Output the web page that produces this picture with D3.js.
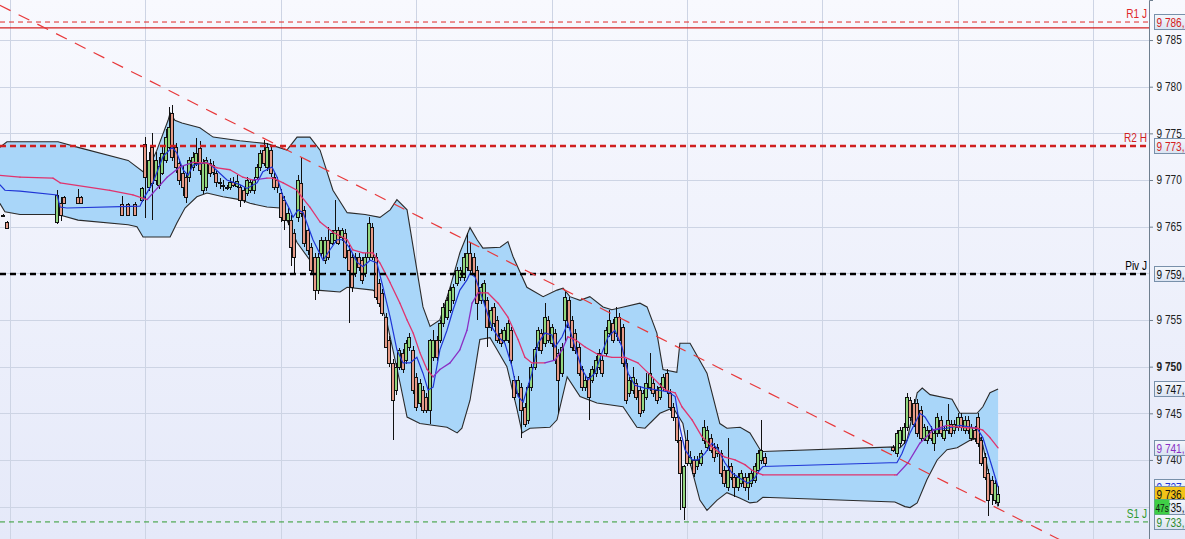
<!DOCTYPE html>
<html><head><meta charset="utf-8">
<script src="https://cdn.jsdelivr.net/npm/d3@7"></script>
<style>body{margin:0;overflow:hidden;background:#fff}svg{display:block}</style>
</head><body><svg id="c" width="1185" height="539"></svg>
<script>
// ---------------- DATA ----------------
// candles: [time, open, high, low, close]
const candlesLeft = [
[-2,9766.3,9766.4,9766.1,9766.2],[-1,9765.5,9765.6,9764.8,9764.9],[14,9765.5,9768.9,9765.3,9768.4],
[15,9767.5,9768.2,9765.6,9766.3],[16,9768.2,9768.3,9767.4,9767.5],[20,9768.2,9769.0,9767.4,9767.5],
[21,9768.2,9768.3,9767.4,9767.5],[33,9767.4,9768.3,9766.2,9766.3],[35,9767.4,9767.5,9766.2,9766.3],
[37,9767.4,9767.6,9766.2,9766.3],[39,9767.9,9769.3,9767.6,9769.1]];
const candlesA = [
[40,9773.9,9774.6,9765.9,9770.3],[41,9769.3,9773.0,9768.8,9772.1],[42,9773.5,9775.0,9765.7,9769.7],
[43,9770.0,9773.0,9769.5,9772.1],[44,9769.5,9772.5,9769.0,9771.5],[45,9770.8,9773.5,9770.5,9772.9],
[46,9772.1,9775.5,9771.8,9774.6],[47,9773.5,9777.8,9773.3,9775.7],[48,9777.2,9778.0,9772.0,9772.5],
[49,9773.5,9774.0,9770.8,9771.4],[50,9771.8,9772.3,9769.5,9770.0],[51,9770.7,9771.5,9768.3,9769.3],
[52,9770.3,9770.8,9767.5,9768.2],[53,9770.3,9772.5,9769.8,9772.1],[54,9771.4,9773.0,9771.0,9772.5],
[55,9771.8,9774.5,9771.5,9772.9],[56,9773.4,9774.2,9770.5,9771.1],[57,9768.9,9772.3,9768.5,9771.8],
[58,9769.2,9772.5,9768.8,9772.1],[59,9771.8,9772.2,9770.3,9770.8],[60,9771.6,9772.0,9770.5,9770.9],
[61,9770.7,9771.0,9769.3,9769.8],[62,9769.8,9770.2,9769.0,9769.7],[63,9769.5,9770.0,9768.8,9769.4],
[64,9769.3,9769.5,9768.9,9769.2],[65,9769.2,9770.2,9768.9,9769.8],[66,9769.8,9770.3,9769.2,9769.5],
[67,9769.4,9770.5,9769.1,9769.9],[68,9769.2,9769.5,9767.1,9767.9],[69,9768.9,9769.3,9767.5,9767.9],
[70,9768.6,9770.3,9768.3,9770.0],[71,9768.9,9770.0,9768.6,9769.8],[72,9768.9,9770.3,9768.5,9770.0],
[73,9770.3,9771.7,9770.0,9771.4],[74,9771.4,9773.2,9771.0,9772.9],[75,9773.2,9774.3,9771.5,9771.8],
[76,9771.4,9774.0,9771.0,9773.5],[77,9773.2,9773.6,9770.3,9770.7],[78,9770.3,9770.7,9768.9,9769.3],
[79,9770.0,9770.3,9768.6,9769.2],[80,9768.6,9769.0,9765.5,9766.0],[81,9767.9,9768.3,9764.6,9765.7],
[82,9765.7,9767.0,9765.2,9766.5],[83,9765.7,9766.2,9760.8,9762.8],[84,9764.3,9764.8,9760.0,9761.8],
[85,9766.0,9770.5,9765.5,9770.0],[86,9769.7,9772.5,9766.0,9766.5],[87,9766.8,9767.2,9762.8,9763.3],
[88,9764.6,9765.0,9762.0,9762.5]];
const candlesB = [
[89,9762.8,9763.2,9760.0,9760.4],[90,9761.8,9762.2,9757.1,9758.2],[91,9758.2,9762.2,9757.8,9761.8],
[92,9762.2,9763.9,9761.8,9763.6],[93,9761.4,9763.9,9761.0,9763.6],[94,9763.6,9765.0,9761.4,9761.8],
[95,9763.3,9764.6,9763.0,9764.3],[96,9763.6,9767.9,9763.3,9764.6],[97,9764.6,9765.0,9763.0,9763.3],
[98,9763.9,9764.9,9763.5,9764.6],[99,9764.3,9764.8,9761.5,9761.8],[100,9762.5,9763.0,9754.7,9760.4],
[101,9761.8,9762.2,9758.0,9758.5],[102,9760.0,9762.2,9759.6,9761.8],[103,9761.8,9762.2,9760.3,9760.7],
[104,9761.4,9761.8,9758.9,9759.3],[105,9760.0,9762.2,9759.6,9761.8],[106,9761.8,9766.0,9761.4,9765.4],
[107,9765.0,9765.4,9761.4,9761.8],[108,9761.8,9762.2,9757.1,9757.5],[109,9759.0,9759.4,9756.4,9756.8],
[110,9757.9,9758.3,9755.4,9755.8],[111,9755.3,9755.7,9752.0,9752.1],[112,9752.9,9753.3,9750.0,9750.4],
[113,9750.4,9750.8,9742.1,9746.4],[114,9747.5,9750.4,9747.0,9750.0],[115,9750.0,9752.0,9749.6,9751.8],
[116,9751.5,9751.9,9749.3,9749.7],[117,9750.7,9752.9,9750.3,9752.5],[118,9752.1,9753.6,9751.7,9753.2],
[119,9751.8,9752.2,9747.1,9747.5],[120,9748.9,9749.3,9745.3,9745.7],[121,9746.1,9748.7,9745.7,9748.3],
[122,9747.5,9747.9,9745.0,9745.4],[123,9746.8,9747.2,9745.0,9745.4],[124,9745.4,9753.0,9743.9,9752.9],
[125,9751.0,9753.9,9750.6,9752.9],[126,9752.9,9753.3,9750.6,9751.0],[127,9752.9,9755.0,9752.5,9754.7],
[128,9754.7,9756.8,9754.3,9756.4],[129,9755.3,9757.5,9755.0,9757.1],[130,9756.1,9758.6,9755.7,9758.2],
[131,9757.1,9758.9,9756.7,9758.5],[132,9759.0,9760.7,9758.6,9760.4],[133,9759.6,9760.7,9759.2,9760.4],
[134,9759.6,9762.2,9759.2,9761.8],[135,9760.7,9764.3,9760.3,9762.2]];
const candlesC = [
[136,9762.2,9763.2,9760.0,9760.4],[137,9761.8,9762.2,9759.6,9760.0],[138,9760.4,9760.8,9755.0,9756.8],
[139,9757.1,9758.9,9756.7,9758.5],[140,9757.1,9759.3,9756.7,9759.0],[141,9757.1,9757.5,9752.1,9754.2],
[142,9754.2,9756.4,9753.8,9756.1],[143,9756.4,9756.8,9754.3,9754.7],[144,9755.0,9755.4,9752.5,9752.9],
[145,9753.6,9754.0,9752.1,9752.5],[146,9752.9,9754.3,9752.5,9753.9],[147,9752.9,9755.0,9752.5,9754.7],
[148,9753.9,9754.3,9750.3,9750.7],[149,9748.6,9749.0,9746.4,9746.8],[150,9747.2,9749.0,9746.8,9748.6],
[151,9747.8,9748.2,9742.4,9745.4],[152,9745.7,9746.1,9743.5,9743.9],[153,9744.3,9748.2,9743.9,9747.8],
[154,9747.8,9750.3,9747.4,9750.0],[155,9750.0,9752.1,9749.6,9751.9],[156,9752.1,9754.3,9751.7,9753.9],
[157,9753.6,9754.0,9751.4,9751.8],[158,9752.5,9756.8,9752.1,9755.3],[159,9755.0,9755.4,9752.5,9752.9],
[160,9752.5,9754.6,9752.1,9754.2],[161,9753.6,9754.0,9750.3,9750.7],[162,9751.5,9751.9,9745.0,9748.6],
[163,9749.3,9752.5,9748.9,9752.1],[164,9755.0,9758.0,9752.5,9757.5],[165,9757.1,9757.5,9754.0,9754.2],
[166,9755.0,9755.4,9751.7,9752.1],[167,9753.6,9754.0,9751.4,9751.8],[168,9752.1,9752.5,9749.0,9749.3],
[169,9749.7,9750.1,9747.4,9747.8],[170,9747.8,9749.0,9747.4,9748.6],[171,9748.9,9749.3,9744.3,9746.8],
[172,9748.6,9750.1,9748.2,9749.7],[173,9749.3,9751.1,9748.9,9750.7],[174,9750.0,9751.9,9749.6,9751.5],
[175,9750.7,9751.1,9748.9,9749.3],[176,9751.5,9754.3,9751.1,9753.9],[177,9753.6,9756.1,9753.2,9755.0],
[178,9754.7,9755.1,9752.5,9752.9],[179,9753.6,9756.4,9753.2,9755.3],[180,9755.3,9755.7,9752.5,9752.9],
[181,9754.2,9754.6,9750.0,9750.4]];
const candlesD = [
[182,9750.4,9750.8,9746.0,9746.4],[183,9747.2,9748.9,9746.8,9748.6],[184,9747.5,9750.0,9747.1,9748.9],
[185,9748.3,9748.7,9746.4,9746.8],[186,9747.5,9747.9,9744.6,9745.0],[187,9745.4,9747.5,9745.0,9747.2],
[188,9746.8,9749.3,9746.4,9748.3],[189,9747.8,9751.5,9747.4,9749.3],[190,9748.3,9748.7,9746.8,9747.2],
[191,9747.5,9747.9,9746.0,9746.4],[192,9746.8,9748.2,9746.4,9747.8],[193,9747.8,9749.2,9747.4,9748.9],
[194,9749.3,9749.7,9747.1,9747.5],[195,9747.2,9747.6,9745.3,9745.7],[196,9745.7,9746.1,9744.2,9744.6],
[197,9744.6,9745.0,9741.8,9742.1],[198,9742.1,9742.5,9734.6,9738.6],[199,9735.0,9739.5,9733.6,9739.3],
[200,9742.1,9743.2,9739.3,9739.7],[201,9739.7,9741.0,9739.3,9740.3],[202,9740.0,9740.4,9738.2,9738.6],
[203,9739.3,9740.4,9738.9,9740.0],[204,9739.7,9741.1,9739.3,9740.7],[205,9742.1,9744.3,9741.7,9743.5],
[206,9741.4,9743.6,9741.0,9743.2],[207,9742.4,9742.8,9740.7,9741.1],[208,9741.4,9741.8,9739.8,9740.3],
[209,9740.7,9741.7,9740.3,9741.4],[210,9740.7,9741.1,9738.2,9738.6],[211,9738.9,9739.3,9737.1,9737.5],
[212,9737.1,9742.4,9736.7,9738.9],[213,9739.3,9739.7,9737.8,9738.2],[214,9738.2,9738.6,9736.0,9737.1],
[215,9737.1,9738.6,9736.7,9738.2],[216,9737.5,9738.9,9737.1,9738.6],[217,9738.2,9738.6,9736.7,9737.1],
[218,9737.1,9738.6,9735.7,9738.2],[219,9737.5,9738.9,9737.1,9738.6],[220,9737.9,9739.7,9737.5,9739.3],
[221,9738.9,9741.1,9738.5,9740.7],[222,9740.0,9744.3,9739.6,9741.1],[223,9740.3,9740.7,9739.3,9739.7]];
const candlesRight = [
[261,9741.4,9741.6,9740.9,9741.1],[262,9740.7,9743.2,9740.3,9742.9],[263,9741.8,9743.5,9741.4,9743.2],
[264,9742.1,9744.0,9741.7,9743.5],[265,9743.5,9747.2,9743.1,9746.8],[266,9746.4,9746.8,9744.2,9744.6],
[267,9746.1,9746.5,9743.5,9743.9],[268,9746.1,9746.5,9742.5,9742.9],[269,9745.4,9745.8,9742.0,9742.4],
[270,9742.4,9743.9,9742.0,9743.5],[271,9742.1,9743.6,9741.7,9743.2],[272,9743.2,9743.6,9742.0,9742.4],
[273,9741.8,9743.3,9741.0,9742.9],[274,9742.9,9745.0,9742.5,9744.6],[275,9744.3,9744.7,9742.5,9742.9],
[276,9742.4,9743.6,9742.0,9743.2],[277,9743.2,9746.0,9742.8,9744.3],[278,9743.9,9744.3,9742.5,9742.9],
[279,9743.2,9744.3,9742.8,9743.9],[280,9743.5,9745.0,9743.1,9744.6],[281,9744.6,9745.0,9743.1,9743.5],
[282,9743.2,9744.7,9742.8,9744.3],[283,9744.3,9744.7,9742.8,9743.2],[284,9742.4,9743.9,9742.0,9743.5],
[285,9743.2,9743.6,9741.9,9742.3],[286,9744.6,9745.0,9741.4,9741.8],[287,9742.1,9742.5,9739.3,9739.7],
[288,9740.3,9740.7,9737.8,9738.2],[289,9738.6,9739.0,9734.0,9735.7],[290,9737.9,9738.3,9735.2,9736.3],
[291,9735.7,9737.9,9735.3,9737.5],[292,9735.5,9737.2,9735.1,9736.3]];

// Bollinger bands [time, value]
const bandUpper = [
[-3,9773.5],[-0.9,9774.1],[14.2,9774.1],[20.1,9773.5],[34.9,9772.1],[39.3,9770.9],[40.5,9770.9],
[43.4,9773.2],[46.7,9776.4],[47.3,9777.2],[48.7,9776.4],[50.8,9776.1],[56.1,9775.6],[60,9774.6],
[67.9,9774.2],[75.9,9773.9],[81.8,9773.2],[84.8,9774.6],[88.6,9774.6],[91.6,9773.2],[95.4,9768.9],
[99.6,9766.5],[104.9,9766.3],[109.3,9766.0],[112.3,9766.8],[114.3,9767.9],[117.3,9766.8],[119.1,9762.8],
[122,9756.4],[124.1,9754.3],[127,9755.0],[130,9758.5],[132.9,9762.2],[135.9,9764.9],[138,9763.6],
[139.7,9762.7],[144.8,9762.8],[147.1,9763.4],[148.6,9761.8],[152.7,9758.5],[157.5,9757.5],[161.6,9758.2],
[163.4,9758.4],[165.4,9757.5],[168.4,9757.1],[171.3,9757.5],[175.2,9756.4],[177.8,9756.1],[186.1,9756.8],
[188.2,9756.4],[191.1,9753.6],[192.9,9749.7],[197.0,9749.4],[197.9,9752.5],[200.9,9752.5],[205.9,9749.3],
[209.7,9743.9],[211.8,9743.4],[215.7,9743.5],[218.6,9742.9],[221.6,9741.1],[222.4,9740.9],[261.4,9741.4],
[262.9,9741.3],[265,9742.1],[268,9747.2],[269.5,9747.7],[271.8,9747.0],[278.3,9746.5],[280.6,9745.0],
[285.7,9745.0],[287.4,9745.7],[289.5,9747.2],[291.9,9747.6]];
const bandLower = [
[-3,9767.5],[-1.5,9766.6],[2.95,9766.3],[14.2,9766.3],[20.1,9765.7],[34.9,9765.2],[37.5,9765.0],
[39.3,9763.9],[43.4,9763.9],[47.3,9763.9],[49.3,9765.4],[51.7,9767.0],[55.2,9768.2],[58.2,9768.6],
[62.9,9768.2],[67.9,9767.9],[70.9,9767.5],[75.9,9767.1],[79.8,9767.0],[81.8,9765.7],[84.8,9763.3],
[88.6,9761.4],[90.7,9758.2],[97.5,9758.0],[99.6,9758.5],[107.2,9758.2],[108.4,9757.9],[111.4,9754.7],
[115.2,9748.3],[117.3,9744.6],[121.1,9743.9],[129.1,9743.5],[132.1,9742.9],[133.5,9743.4],[135.9,9746.4],
[137.4,9749.7],[138.8,9752.9],[141.8,9753.1],[143.9,9751.8],[146.8,9750.0],[149.8,9745.4],[151.3,9742.9],
[153.6,9743.4],[159.5,9743.5],[161.6,9744.3],[164.6,9748.9],[168.4,9746.8],[173.4,9746.1],[181.1,9745.7],
[185.2,9743.5],[187.6,9743.4],[192,9745.0],[195.9,9745.6],[198.8,9743.9],[200.9,9739.7],[203.8,9735.7],
[205.9,9734.6],[208.9,9735.7],[211.8,9736.5],[215.7,9735.9],[218.6,9735.4],[220.7,9735.5],[222.4,9736.0],
[261.4,9735.5],[264.4,9735.0],[265.9,9734.9],[268,9735.4],[270.9,9737.9],[273.9,9740.0],[276.8,9741.1],
[279.8,9741.3],[283.6,9742.1],[286.6,9742.4],[287.4,9741.6],[289.5,9737.9],[291.9,9735.0]];

// fast moving average (blue)
const fastMA = [
[-3,9769.5],[-1.5,9768.9],[2.95,9768.8],[13.9,9768.4],[14.8,9767.1],[16.8,9767.0],[38.4,9767.2],
[39.3,9767.9],[42.2,9769.7],[45.2,9772.5],[47.9,9773.5],[49.3,9772.9],[51.1,9771.1],[52.6,9770.5],
[54.1,9771.6],[58.2,9771.9],[60,9771.4],[64.1,9770.0],[67.9,9769.5],[70,9769.1],[73,9769.7],[74.7,9770.9],
[77.4,9771.4],[78.9,9770.3],[80.7,9768.2],[82.7,9766.8],[83.6,9766.0],[85.1,9766.8],[86.6,9766.5],
[87.7,9765.4],[89.5,9763.6],[92.5,9761.4],[94.5,9762.5],[96.6,9763.6],[98.4,9763.6],[100.4,9762.7],
[102.5,9761.2],[104.3,9760.7],[106.4,9761.4],[108.4,9761.1],[110.2,9758.5],[112.3,9755.3],[114.3,9751.8],
[116.1,9750.4],[118.2,9750.4],[120.2,9751.0],[122,9749.3],[123.5,9747.5],[125,9747.8],[127,9751.8],
[129.1,9753.9],[130.9,9756.1],[132.9,9758.2],[135,9759.3],[135.9,9760.0],[137.4,9759.6],[139.4,9757.5],
[142.4,9754.2],[144.2,9753.2],[146.2,9752.5],[148.3,9750.0],[150.1,9746.8],[151.6,9746.2],[154.2,9749.3],
[156,9752.5],[158,9753.6],[160.1,9753.4],[161,9752.1],[163.1,9753.2],[164.8,9754.7],[166.9,9752.1],
[169,9749.7],[170.8,9748.6],[172.8,9749.3],[174.9,9751.5],[176.7,9753.2],[178.7,9753.9],[180.8,9752.1],
[182.6,9749.3],[184.6,9748.0],[187.6,9747.7],[191.4,9747.5],[194.4,9747.3],[196.5,9746.8],[197.9,9743.5],
[199.4,9741.1],[201.5,9740.0],[203.3,9740.0],[205.3,9740.7],[207.4,9741.8],[209.2,9741.1],[211.2,9739.7],
[213.3,9738.6],[216.2,9737.9],[218,9737.5],[220.1,9738.1],[221,9738.7],[222.4,9739.3],[260,9739.7],
[262,9739.7],[263.5,9740.7],[265.9,9742.9],[268.8,9745.0],[270.3,9744.6],[272.7,9743.2],[276.8,9743.4],
[280.6,9743.7],[285.7,9743.4],[287.4,9742.4],[289.5,9740.0],[291,9738.2],[291.9,9737.1]];

// slow moving average (purple / red)
const slowMA = [
[-3,9770.5],[2.95,9770.3],[12.7,9770.2],[14.8,9769.7],[29.5,9768.9],[36.3,9768.4],[40.5,9767.9],
[42.2,9768.6],[46.4,9770.3],[50.2,9771.4],[54.1,9771.9],[58.2,9771.8],[61.2,9771.3],[65,9771.1],
[68.8,9770.3],[71.8,9770.0],[75.9,9770.2],[77.7,9770.2],[80.7,9769.7],[84.8,9768.9],[85.7,9768.4],
[88.6,9767.1],[91.6,9765.5],[95.4,9764.4],[99.6,9763.6],[101.3,9762.5],[104.3,9762.2],[107.2,9762.2],
[109.3,9761.1],[112.3,9759.0],[115.2,9756.8],[117.3,9755.0],[119.1,9753.6],[121.1,9751.5],[123.2,9749.7],
[125,9748.9],[127,9749.7],[130,9750.4],[132.9,9751.8],[135,9753.9],[136.5,9756.8],[138.3,9757.9],
[141.2,9757.9],[144.2,9756.8],[147.1,9755.3],[150.1,9752.9],[152.1,9751.0],[154.2,9750.4],[158,9750.4],
[161,9750.7],[163.1,9751.8],[164.8,9753.2],[166.9,9752.9],[169.9,9752.1],[173.7,9751.3],[177.8,9751.0],
[181.7,9751.0],[185.5,9750.4],[189.7,9748.9],[193.5,9747.5],[196.5,9747.2],[198.5,9745.7],[201.5,9744.3],
[204.4,9742.5],[207.4,9741.4],[211.2,9740.3],[214.2,9740.0],[217.1,9739.5],[219.2,9738.9],[221,9738.6],
[222.4,9738.4],[261.4,9738.4],[262,9738.4],[265.3,9739.7],[268.8,9741.8],[272.7,9743.2],[276.8,9743.7],
[280.6,9743.5],[285.7,9743.4],[287.4,9743.2],[289.5,9742.4],[291.9,9741.3]];

// horizontal levels
const levelNames  = ["R1 J", "R2 H", "Piv J", "S1 J"];
const levelValues = [9786.93, 9773.65, 9759.93, 9733.36];
const dayLineValue = 9786.3;
// trend line anchors [time, value]
const trendLine = [[-3, 9788.73], [310, 9731.48]];
// axis ticks (grid at every tick, labels only where not covered by a value box)
const gridTicks = [9735, 9740, 9745, 9750, 9755, 9760, 9765, 9770, 9775, 9780, 9785];
const yTickLabels = [9740, 9745, 9750, 9755, 9765, 9770, 9775, 9780, 9785];
const boldTick = 9750;
const gridTimes = [0, 40, 80, 120, 160, 200, 240, 280, 320];
// last values
const lastPrice = 9736.3;
const upperLast = 9747.6, slowLast = 9741.3, fastLast = 9737.1, lowerLast = 9735.0;
const countdown = "47s";

// ---------------- DRAW ----------------
const W = 1185, H = 539, plotR = 1149;
const FONT = "Liberation Sans, Arial, sans-serif";
const SX = 0.84; // the original font is narrower than Arial
const svg = d3.select("#c");
const x = d3.scaleLinear().domain([0, 320]).range([10, 1093.2]);
const y = d3.scaleLinear().domain([9789.29, 9731.53]).range([0, 539]);
const loc = d3.formatLocale({decimal: ",", thousands: " ", grouping: [3], currency: ["", ""]});
const fTick = loc.format(",d"), fVal = loc.format(",.2f");
const shortVal = v => fVal(v).split(",")[0] + ",";

const defs = svg.append("defs");
const bg = defs.append("linearGradient").attr("id", "bg").attr("x1", 0).attr("y1", 0).attr("x2", 0).attr("y2", 1);
bg.append("stop").attr("offset", 0).attr("stop-color", "#f8f9fe");
bg.append("stop").attr("offset", 1).attr("stop-color", "#e5e9f9");
const bx = defs.append("linearGradient").attr("id", "bx").attr("x1", 0).attr("y1", 0).attr("x2", 0).attr("y2", 1);
bx.append("stop").attr("offset", 0).attr("stop-color", "#f4f7fc");
bx.append("stop").attr("offset", 1).attr("stop-color", "#dae3f2");
defs.append("clipPath").attr("id", "plot").append("rect").attr("x", 0).attr("y", 0).attr("width", plotR).attr("height", H);

svg.append("rect").attr("width", W).attr("height", H).attr("fill", "url(#bg)");

const g = svg.append("g").attr("clip-path", "url(#plot)");
// grid
g.selectAll(".hg").data(gridTicks).join("line")
  .attr("x1", 0).attr("x2", plotR).attr("y1", d => Math.round(y(d)) + 0.5).attr("y2", d => Math.round(y(d)) + 0.5)
  .attr("stroke", "#cdd4e4").attr("stroke-width", 1);
g.selectAll(".vg").data(gridTimes).join("line")
  .attr("y1", 0).attr("y2", H).attr("x1", d => Math.round(x(d)) + 0.5).attr("x2", d => Math.round(x(d)) + 0.5)
  .attr("stroke", "#cdd4e4").attr("stroke-width", 1);

// band
const ln = d3.line().x(d => x(d[0])).y(d => y(d[1]));
const poly = bandUpper.concat(bandLower.slice().reverse());
g.append("path").attr("d", ln(poly) + "Z").attr("fill", "#a9d6f9");
g.append("path").attr("d", ln(bandUpper)).attr("fill", "none").attr("stroke", "#2a2a2a").attr("stroke-width", 1.1);
g.append("path").attr("d", ln(bandLower)).attr("fill", "none").attr("stroke", "#2a2a2a").attr("stroke-width", 1.1);

// candles
const candles = [].concat(candlesLeft, candlesA, candlesB, candlesC, candlesD, candlesRight);
const cg = g.append("g").attr("shape-rendering", "crispEdges");
candles.forEach(c => {
  const cx = Math.round(x(c[0]));
  cg.append("line").attr("x1", cx + 0.5).attr("x2", cx + 0.5).attr("y1", y(c[2])).attr("y2", y(c[3]))
    .attr("stroke", "#111").attr("stroke-width", 1);
  const top = Math.round(y(Math.max(c[1], c[4]))), bot = Math.round(y(Math.min(c[1], c[4])));
  cg.append("rect").attr("x", cx - 1.5).attr("width", 3).attr("y", top + 0.5).attr("height", Math.max(1, bot - top))
    .attr("fill", c[4] >= c[1] ? "#92d67e" : "#e69b88").attr("stroke", "#111").attr("stroke-width", 1);
});

// moving averages
g.append("path").attr("d", ln(fastMA)).attr("fill", "none").attr("stroke", "#1f35d6").attr("stroke-width", 1.2);
for (let i = 1; i < slowMA.length; i++) {
  const a = slowMA[i - 1], b = slowMA[i];
  g.append("line").attr("x1", x(a[0])).attr("y1", y(a[1])).attr("x2", x(b[0])).attr("y2", y(b[1]))
    .attr("stroke", b[1] > a[1] ? "#8a2fc4" : "#e0336e").attr("stroke-width", 1.3).attr("stroke-linecap", "round");
}

// levels
const levelStyle = [
  {c: "#e02828", w: 1, dash: "5,4"},
  {c: "#d01f1f", w: 2.6, dash: "6,4"},
  {c: "#000000", w: 2.6, dash: "6,4"},
  {c: "#2e9a2e", w: 1, dash: "5,4"}];
g.append("line").attr("x1", 0).attr("x2", plotR).attr("y1", y(dayLineValue)).attr("y2", y(dayLineValue))
  .attr("stroke", "#d42020").attr("stroke-width", 1.4);
levelValues.forEach((v, i) => {
  const s = levelStyle[i];
  g.append("line").attr("x1", 0).attr("x2", plotR).attr("y1", y(v)).attr("y2", y(v))
    .attr("stroke", s.c).attr("stroke-width", s.w).attr("stroke-dasharray", s.dash);
  svg.append("text").attr("transform", `translate(1147,${y(v) - 4}) scale(${SX},1)`).attr("text-anchor", "end")
    .attr("font-family", FONT).attr("font-size", 12).attr("fill", s.c)
    .text(levelNames[i]);
});

// trend line
g.append("path").attr("d", ln(trendLine)).attr("fill", "none").attr("stroke", "#e8383a")
  .attr("stroke-width", 1.2).attr("stroke-dasharray", "12,9");

// right axis
const ax = svg.append("g").attr("transform", `translate(${plotR},0)`)
  .call(d3.axisRight(y).tickValues(yTickLabels).tickFormat(fTick).tickSize(4).tickPadding(5));
ax.select(".domain").attr("stroke", "#6f7f8f");
ax.selectAll(".tick line").attr("stroke", "#6f7f8f");
ax.selectAll(".tick text").attr("font-family", FONT).attr("font-size", 12)
  .attr("transform", `scale(${SX},1)`)
  .attr("fill", "#222").attr("font-weight", d => d === boldTick ? "bold" : "normal");

// value boxes
function box(v, color, fill, label) {
  const yy = Math.round(y(v));
  svg.append("rect").attr("x", 1154.5).attr("y", yy - 7.5).attr("width", 40).attr("height", 15)
    .attr("fill", fill || "url(#bx)").attr("stroke", "#7890aa").attr("stroke-width", 1);
  svg.append("text").attr("transform", `translate(1156.5,${yy + 4.5}) scale(${SX},1)`)
    .attr("font-family", FONT).attr("font-size", 12).attr("fill", color)
    .text(label || shortVal(v));
}
box(levelValues[0], "#d42020");
box(levelValues[1], "#d42020");
box(levelValues[2], "#111");
box(upperLast, "#111");
box(slowLast, "#8a2fc4");
box(fastLast, "#1f35d6");
box(lastPrice, "#111", "#f2c318");
box(lowerLast, "#111");
box(levelValues[3], "#2e8a2e");
// countdown badge over the lower band label
{
  const yy = Math.round(y(lowerLast));
  svg.append("rect").attr("x", 1154.5).attr("y", yy - 7.5).attr("width", 15).attr("height", 15).attr("fill", "#3fcf46");
  svg.append("text").attr("transform", `translate(1155.5,${yy + 4.5}) scale(0.72,1)`).attr("font-family", FONT)
    .attr("font-size", 11.5).attr("fill", "#111").text(countdown);
}
</script></body></html>
